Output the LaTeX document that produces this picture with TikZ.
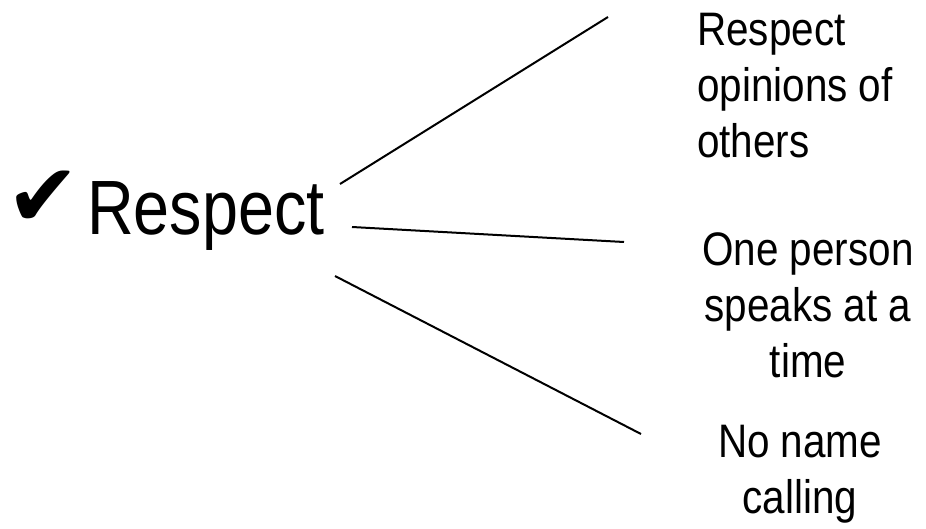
\documentclass[tikz,border=0pt]{standalone}
\usepackage{fontspec}
\setmainfont[FakeStretch=0.86]{Liberation Sans}
\newfontfamily\bigfont[FakeStretch=0.84]{Liberation Sans}
\newfontfamily\symfont{DejaVu Sans}
\begin{document}
\begin{tikzpicture}[x=1pt,y=-1pt,
  conn/.style={line width=2pt},
  lbl/.style={inner sep=0pt, font=\fontsize{47}{56}\selectfont}]
\useasboundingbox (0,0) rectangle (926,529);
\node[anchor=south west, inner sep=0pt, font=\symfont\fontsize{88}{88}\selectfont] (chk) at (6,227) {✔};
\node[anchor=base west, inner sep=0pt, font=\bigfont\fontsize{77}{77}\selectfont] (resp) at (87,235) {Respect};
\node[lbl, anchor=north west, align=left] (t1) at (697,13) {Respect\\opinions of\\others};
\node[lbl, anchor=north, align=center] (t2) at (808,232) {One person\\speaks at a\\time};
\node[lbl, anchor=north, align=center] (t3) at (800,425) {No name\\calling};
\coordinate (s1) at (340,184);
\coordinate (e1) at (608,17);
\coordinate (s2) at (352,227);
\coordinate (e2) at (624,242);
\coordinate (s3) at (335,276);
\coordinate (e3) at (641,434);
\draw[conn] (s1) -- (e1);
\draw[conn] (s2) -- (e2);
\draw[conn] (s3) -- (e3);
\end{tikzpicture}
\end{document}
